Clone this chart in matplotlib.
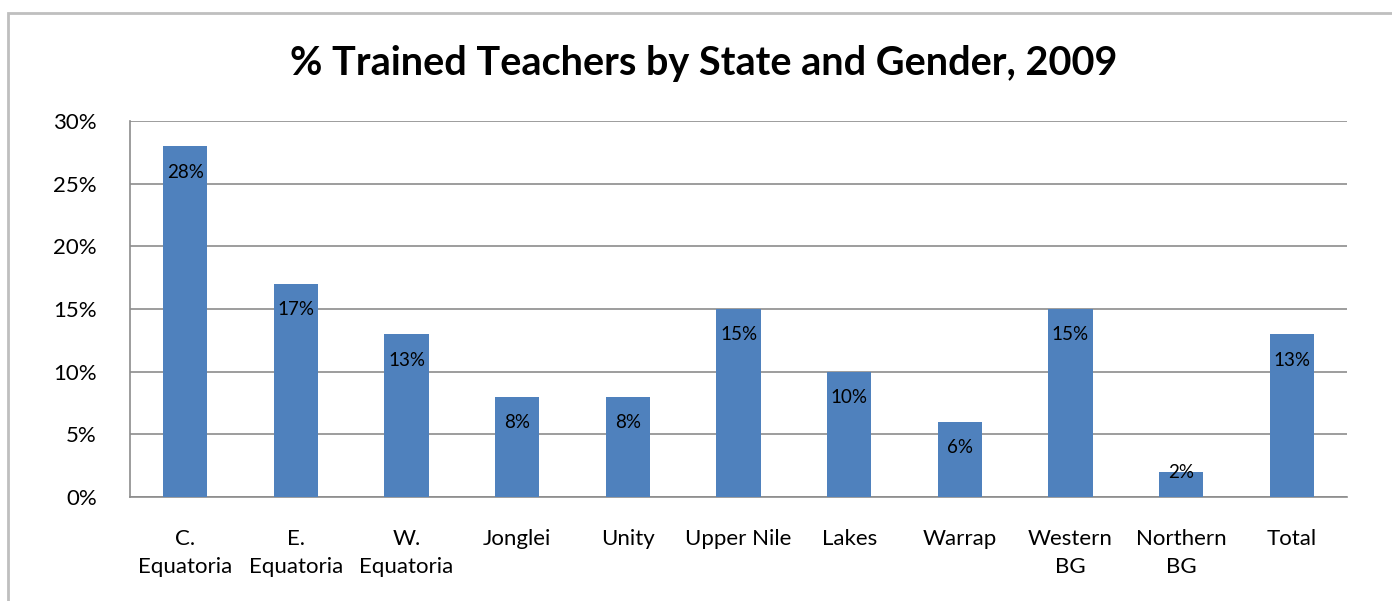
import matplotlib.pyplot as plt
from matplotlib.patches import Rectangle

states = ['C.\nEquatoria', 'E.\nEquatoria', 'W.\nEquatoria', 'Jonglei', 'Unity',
          'Upper Nile', 'Lakes', 'Warrap', 'Western\nBG', 'Northern\nBG', 'Total']
trained_pct = [28, 17, 13, 8, 8, 15, 10, 6, 15, 2, 13]
y_ticks = [0, 5, 10, 15, 20, 25, 30]

plt.rcParams['font.family'] = ['Lato', 'DejaVu Sans']

fig = plt.figure(figsize=(13.92, 6.01), dpi=100)
ax = fig.add_axes([130 / 1392, 1 - 497 / 601, 1217 / 1392, 376 / 601])

# outer chart border
fig.patches.append(Rectangle((8 / 1392, -0.1), 1.2, 1 - 13 / 601 + 0.1, transform=fig.transFigure,
                             fill=False, edgecolor='#bfbfbf', linewidth=2))

x = range(len(states))
ax.bar(x, trained_pct, width=0.4, color='#4f81bd', zorder=3)

for i, v in enumerate(trained_pct):
    if v > 4:
        ax.annotate(f'{v}%', (i, v), xytext=(0, -26), textcoords='offset pixels',
                    ha='center', va='center', fontsize=13.5, zorder=4)
    else:
        ax.annotate(f'{v}%', (i, v), xytext=(0, -1), textcoords='offset pixels',
                    ha='center', va='center', fontsize=13.5, zorder=4)

ax.set_ylim(0, 30)
ax.set_xlim(-0.5, len(states) - 0.5)
ax.set_yticks(y_ticks)
ax.set_yticklabels([f'{t}%' for t in y_ticks])
ax.set_xticks(list(x))
ax.set_xticklabels(states, linespacing=1.5)
ax.tick_params(axis='y', length=0, pad=24, labelsize=16)
ax.tick_params(axis='x', length=0, pad=23, labelsize=16)
ax.grid(axis='y', color='#8c8c8c', linewidth=1.2, zorder=0)
for s in ['top', 'right']:
    ax.spines[s].set_visible(False)
for s in ['left', 'bottom']:
    ax.spines[s].set_color('#8c8c8c')
    ax.spines[s].set_linewidth(1.2)

fig.text(704 / 1392, 1 - 63 / 601, '% Trained Teachers by State and Gender, 2009',
         ha='center', va='center', fontsize=28.5, fontweight='bold')

fig.savefig('out.png', dpi=100)
